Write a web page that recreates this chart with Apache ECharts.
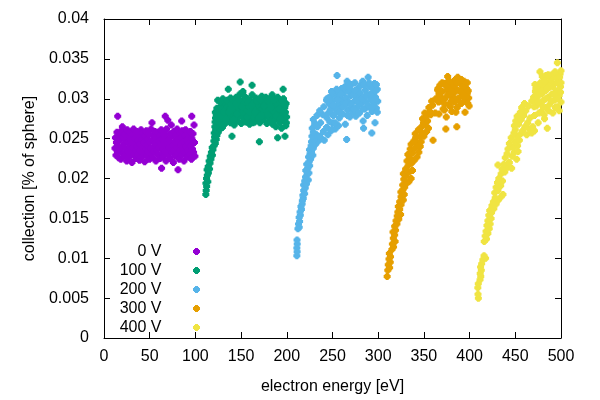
<!DOCTYPE html>
<html>
<head>
<meta charset="utf-8">
<script src="https://cdn.jsdelivr.net/npm/echarts@6/dist/echarts.min.js"></script>
<style>html,body{margin:0;padding:0;background:#fff}#c{width:600px;height:400px}</style>
</head>
<body>
<div id="c"></div>
<script>
var seriesNames = ['0 V', '100 V', '200 V', '300 V', '400 V'];
var seriesColors = ['#9400d3', '#009e73', '#56b4e9', '#e69f00', '#f0e442'];
var xTicks = [0, 50, 100, 150, 200, 250, 300, 350, 400, 450, 500];
var yTicks = [0, 0.005, 0.01, 0.015, 0.02, 0.025, 0.03, 0.035, 0.04];

var v0 = [
[12.0,0.0238],[12.5,0.0251],[13.1,0.0229],[13.6,0.0245],[14.2,0.0258],[14.8,0.0233],[15.0,0.0278],[15.5,0.0241],
[16.1,0.0226],[16.6,0.0255],[17.3,0.0236],[17.9,0.0248],[18.4,0.0224],[19.0,0.0260],[19.6,0.0239],[20.1,0.0265],
[20.7,0.0231],[21.3,0.0252],[21.9,0.0243],[22.4,0.0228],[23.0,0.0256],[23.7,0.0237],[24.2,0.0249],[24.8,0.0222],
[25.4,0.0261],[26.0,0.0234],[26.5,0.0246],[27.1,0.0253],[27.8,0.0227],[28.3,0.0240],[28.9,0.0258],[29.5,0.0232],
[30.0,0.0247],[30.6,0.0220],[31.2,0.0255],[31.8,0.0238],[32.4,0.0262],[33.0,0.0229],[33.5,0.0244],[34.1,0.0251],
[34.7,0.0235],[35.3,0.0225],[35.9,0.0259],[36.4,0.0241],[37.0,0.0248],[37.6,0.0230],[38.2,0.0254],[38.8,0.0223],
[39.3,0.0243],[39.9,0.0236],[40.5,0.0261],[41.1,0.0227],[41.6,0.0249],[42.2,0.0239],[42.8,0.0257],[43.4,0.0232],
[44.0,0.0245],[44.5,0.0221],[45.1,0.0253],[45.7,0.0237],[46.3,0.0260],[46.9,0.0228],[47.4,0.0242],[48.0,0.0250],
[48.6,0.0234],[49.2,0.0256],[49.8,0.0224],[50.3,0.0246],[50.9,0.0238],[51.5,0.0262],[52.1,0.0231],[52.5,0.0270],
[52.7,0.0248],[53.3,0.0226],[53.8,0.0254],[54.4,0.0240],[55.0,0.0233],[55.6,0.0259],[56.2,0.0244],[56.8,0.0222],
[57.3,0.0251],[57.9,0.0236],[58.5,0.0258],[59.1,0.0229],[59.7,0.0247],[60.2,0.0239],[60.8,0.0255],[61.4,0.0225],
[62.0,0.0243],[62.6,0.0261],[63.0,0.0213],[63.1,0.0232],[63.7,0.0250],[64.3,0.0237],[64.9,0.0227],[65.5,0.0257],
[66.0,0.0245],[66.6,0.0234],[67.0,0.0278],[67.2,0.0252],[67.8,0.0222],[68.4,0.0262],[69.0,0.0240],[69.8,0.0273],
[70.1,0.0230],[70.7,0.0248],[71.3,0.0238],[71.9,0.0256],[72.4,0.0225],[73.0,0.0244],[73.6,0.0267],[74.2,0.0233],
[74.8,0.0253],[75.3,0.0241],[75.9,0.0220],[76.5,0.0259],[77.1,0.0236],[77.7,0.0247],[78.2,0.0228],[78.8,0.0255],
[79.4,0.0239],[80.0,0.0262],[80.6,0.0231],[81.0,0.0211],[81.1,0.0249],[81.7,0.0243],[82.3,0.0224],[82.9,0.0257],
[83.5,0.0235],[84.0,0.0251],[84.6,0.0242],[85.0,0.0272],[85.2,0.0229],[85.8,0.0260],[86.4,0.0238],[87.0,0.0246],
[87.5,0.0222],[88.1,0.0254],[88.7,0.0233],[89.3,0.0261],[89.9,0.0240],[90.4,0.0248],[91.0,0.0227],[91.6,0.0256],
[92.2,0.0236],[92.8,0.0244],[93.3,0.0252],[93.9,0.0230],[94.5,0.0259],[95.1,0.0241],[95.7,0.0224],[96.0,0.0278],
[96.2,0.0250],[96.8,0.0237],[97.4,0.0256],[98.0,0.0233],[98.5,0.0267],[99.0,0.0245],[99.5,0.0228]
];

var v100 = [
[111.4,0.0180],[111.8,0.0185],[112.3,0.0190],[111.5,0.0194],[113.6,0.0196],[112.2,0.0200],[113.0,0.0204],[114.2,0.0207],
[112.8,0.0211],[115.5,0.0212],[114.0,0.0215],[116.0,0.0219],[115.0,0.0222],[117.0,0.0224],[116.2,0.0228],[118.6,0.0229],
[117.5,0.0233],[119.2,0.0236],[118.4,0.0239],[120.5,0.0241],[121.8,0.0244],[120.2,0.0247],[122.8,0.0249],[121.0,0.0252],
[123.5,0.0254],[120.6,0.0257],[125.0,0.0258],[122.2,0.0261],[127.0,0.0262],[121.3,0.0265],[129.5,0.0264],[124.0,0.0267],
[121.5,0.0271],[126.0,0.0270],[131.0,0.0268],[122.0,0.0276],[128.0,0.0274],[124.4,0.0298],[121.8,0.0283],[123.5,0.0288],
[122.8,0.0280],[125.3,0.0286],[126.0,0.0279],
[126.8,0.0281],[127.5,0.0290],[128.2,0.0270],[129.0,0.0284],[129.7,0.0293],[130.4,0.0277],[131.1,0.0288],
[131.8,0.0268],[132.5,0.0295],[133.2,0.0280],[134.0,0.0273],[134.7,0.0290],[135.4,0.0284],[136.0,0.0312],[136.2,0.0297],
[136.9,0.0276],[137.6,0.0287],[138.3,0.0270],[139.0,0.0293],[139.7,0.0281],[140.0,0.0253],[140.4,0.0299],[141.1,0.0275],
[141.8,0.0286],[142.5,0.0267],[143.2,0.0291],[143.9,0.0279],[144.6,0.0302],[145.3,0.0284],[146.0,0.0272],[146.7,0.0295],
[147.4,0.0288],[148.1,0.0278],[148.8,0.0306],[149.0,0.0321],[149.5,0.0291],[150.2,0.0269],[150.9,0.0283],[151.6,0.0297],
[152.3,0.0276],[153.0,0.0289],[153.7,0.0303],[154.4,0.0281],[155.1,0.0271],[155.8,0.0294],[156.5,0.0286],[157.2,0.0300],
[157.9,0.0277],[158.6,0.0290],[159.3,0.0268],[160.0,0.0298],[160.7,0.0284],[161.4,0.0274],[162.0,0.0317],[162.1,0.0305],
[162.8,0.0289],[163.5,0.0279],[164.2,0.0296],[164.9,0.0271],[165.6,0.0287],[166.3,0.0301],[167.0,0.0282],[167.7,0.0293],
[168.4,0.0275],[169.1,0.0298],[169.8,0.0285],[170.0,0.0246],[170.5,0.0270],[171.2,0.0291],[171.9,0.0280],[172.6,0.0303],
[173.3,0.0287],[174.0,0.0274],[174.7,0.0295],[175.4,0.0283],[176.1,0.0300],[176.8,0.0278],[177.5,0.0290],[178.2,0.0269],
[178.9,0.0297],[179.6,0.0285],[180.3,0.0276],[181.0,0.0293],[181.7,0.0282],[182.4,0.0299],[183.1,0.0271],[183.8,0.0288],
[184.0,0.0305],[184.5,0.0279],[185.2,0.0296],[185.9,0.0284],[186.6,0.0273],[187.3,0.0291],[188.0,0.0265],[188.7,0.0287],
[189.4,0.0298],[190.0,0.0251],[190.1,0.0277],[190.8,0.0293],[191.5,0.0282],[192.2,0.0270],[192.9,0.0296],[193.6,0.0286],
[194.3,0.0263],[195.0,0.0291],[195.7,0.0279],[196.0,0.0312],[196.4,0.0300],[197.1,0.0273],[197.8,0.0289],[198.0,0.0253],
[198.5,0.0283],[199.2,0.0294],[199.8,0.0277],[198.9,0.0266],
[127.0,0.0296],[128.5,0.0279],[130.0,0.0300],[131.5,0.0283],[133.0,0.0274],[134.5,0.0298],[137.0,0.0283],[138.5,0.0301],
[140.5,0.0289],[142.0,0.0275],[144.0,0.0294],[146.0,0.0281],[147.5,0.0299],[150.5,0.0290],[152.0,0.0309],[154.0,0.0296],
[156.0,0.0277],[158.0,0.0296],[159.5,0.0283],[161.5,0.0292],[163.0,0.0270],[165.0,0.0283],[167.5,0.0297],[169.5,0.0276],
[171.0,0.0300],[173.0,0.0279],[175.0,0.0291],[177.0,0.0302],[179.0,0.0280],[181.0,0.0300],[182.5,0.0289],[184.5,0.0268],
[186.0,0.0299],[188.0,0.0278],[190.0,0.0302],[191.5,0.0287],[193.0,0.0275],[195.0,0.0298],[196.5,0.0285],[198.0,0.0292],
[199.5,0.0270]
];

var v200 = [
[211.0,0.0103],[211.3,0.0108],[211.0,0.0113],[211.4,0.0118],[211.2,0.0123],
[212.2,0.0137],[213.6,0.0139],[212.8,0.0143],[214.0,0.0146],[213.5,0.0151],[214.8,0.0154],[214.5,0.0158],[216.0,0.0161],
[215.5,0.0165],[216.8,0.0168],[217.0,0.0172],[218.0,0.0175],[217.6,0.0179],[219.5,0.0181],[218.5,0.0185],[220.2,0.0188],
[218.4,0.0192],[221.5,0.0193],[219.6,0.0197],[223.5,0.0198],[220.5,0.0202],[222.3,0.0205],[224.2,0.0207],[220.8,0.0210],
[223.0,0.0213],[225.0,0.0216],[221.8,0.0218],[224.4,0.0221],[226.0,0.0224],[223.8,0.0227],[228.5,0.0229],[225.4,0.0231],
[227.0,0.0234],[224.8,0.0236],[229.0,0.0238],[226.6,0.0241],[231.5,0.0243],[227.0,0.0246],[234.5,0.0247],[229.5,0.0249],
[238.0,0.0250],[241.0,0.0248],[227.5,0.0253],[232.5,0.0255],[236.0,0.0253],[245.0,0.0255],[229.0,0.0258],[240.0,0.0259],
[248.5,0.0260],[253.0,0.0262],[227.8,0.0263],[233.5,0.0265],[243.5,0.0264],[256.5,0.0266],[230.5,0.0269],[237.0,0.0270],
[250.0,0.0270],[229.0,0.0274],[244.0,0.0276],[233.0,0.0279],[239.5,0.0280],[236.0,0.0285],[243.5,0.0298],[240.5,0.0290],
[247.0,0.0293],[253.0,0.0307],[265.5,0.0249],
[244.0,0.0300],[245.5,0.0282],[246.5,0.0294],[247.0,0.0271],[248.0,0.0303],[248.5,0.0287],[249.5,0.0262],[250.0,0.0297],
[251.0,0.0279],[251.5,0.0306],[252.5,0.0290],[253.0,0.0270],[254.0,0.0300],[255.0,0.0329],[255.2,0.0284],[256.0,0.0310],
[256.5,0.0293],[257.5,0.0276],[258.0,0.0303],[259.0,0.0288],[260.0,0.0313],[260.5,0.0298],[261.5,0.0281],[262.0,0.0307],
[263.0,0.0292],[264.0,0.0268],[264.5,0.0316],[265.0,0.0301],[266.0,0.0322],[266.5,0.0286],[267.5,0.0310],[268.0,0.0296],
[269.0,0.0277],[270.0,0.0304],[270.5,0.0318],[271.5,0.0290],[272.0,0.0283],[273.0,0.0309],[274.0,0.0297],[274.5,0.0320],
[275.5,0.0278],[276.0,0.0303],[277.0,0.0289],[278.0,0.0313],[279.0,0.0299],[279.5,0.0282],[280.5,0.0307],[281.0,0.0293],
[282.0,0.0318],[283.0,0.0322],[283.5,0.0272],[284.0,0.0263],[284.5,0.0301],[285.5,0.0287],[286.0,0.0311],[287.0,0.0296],
[288.0,0.0279],[289.0,0.0327],[289.3,0.0305],[290.0,0.0290],[291.0,0.0315],[292.0,0.0299],[293.0,0.0257],[293.3,0.0284],
[294.0,0.0308],[295.0,0.0294],[296.0,0.0319],[296.5,0.0270],[297.0,0.0302],[298.0,0.0288],[299.0,0.0312],[299.5,0.0297],
[245.5,0.0301],[247.5,0.0286],[249.0,0.0309],[251.0,0.0292],[252.5,0.0281],[254.5,0.0312],[256.0,0.0298],[258.0,0.0283],
[259.5,0.0306],[261.0,0.0290],[263.0,0.0314],[265.0,0.0294],[266.5,0.0279],[268.5,0.0314],[270.0,0.0292],[272.0,0.0305],
[273.5,0.0287],[275.0,0.0311],[277.0,0.0297],[278.5,0.0282],[280.0,0.0316],[282.0,0.0300],[283.5,0.0287],[285.0,0.0318],
[287.0,0.0304],[288.5,0.0292],[290.0,0.0320],[292.0,0.0306],[293.5,0.0290],[295.0,0.0313],[296.5,0.0300],[298.0,0.0318],
[299.0,0.0283],[297.5,0.0310]
];

var v300 = [
[309.8,0.0077],[310.5,0.0085],[312.5,0.0088],[311.0,0.0092],[313.2,0.0095],[311.8,0.0099],[313.5,0.0102],[312.2,0.0106],
[315.0,0.0111],[316.8,0.0114],[315.5,0.0118],[318.5,0.0121],[316.5,0.0125],[318.0,0.0129],[316.2,0.0133],[319.0,0.0135],
[318.0,0.0140],[320.5,0.0143],[319.5,0.0147],[322.5,0.0149],[320.8,0.0153],[324.5,0.0155],[321.5,0.0158],[323.5,0.0161],
[322.0,0.0165],[325.0,0.0167],[323.5,0.0171],[327.5,0.0173],[325.0,0.0177],[328.5,0.0180],[324.8,0.0183],[327.0,0.0186],
[329.0,0.0189],[326.8,0.0192],[331.0,0.0194],[333.5,0.0196],[328.0,0.0199],[336.0,0.0200],[330.5,0.0203],[327.5,0.0206],
[334.0,0.0208],[337.5,0.0210],[330.0,0.0212],[332.8,0.0216],[336.5,0.0219],[331.5,0.0222],[339.5,0.0223],[334.5,0.0226],
[342.5,0.0227],[332.5,0.0230],[337.5,0.0232],[344.5,0.0233],[335.0,0.0237],[340.5,0.0238],[346.0,0.0240],[336.0,0.0243],
[343.0,0.0244],[339.0,0.0247],[347.0,0.0246],[341.0,0.0251],[345.5,0.0252],[350.0,0.0253],[360.0,0.0248],[340.5,0.0256],
[348.0,0.0257],[353.0,0.0259],[344.0,0.0261],[355.0,0.0263],[374.0,0.0262],[347.5,0.0265],[351.5,0.0267],[349.5,0.0270],
[354.0,0.0272],[348.5,0.0275],[352.5,0.0278],[357.5,0.0280],[366.5,0.0281],[351.0,0.0282],[356.5,0.0284],[362.5,0.0282],
[355.5,0.0289],[359.5,0.0292],[365.5,0.0313],[358.5,0.0297],[363.0,0.0300],[367.0,0.0305],[376.0,0.0328],
[365.0,0.0311],[366.5,0.0306],[367.5,0.0317],[368.5,0.0297],[370.0,0.0309],[371.0,0.0287],[372.0,0.0319],
[373.0,0.0300],[374.5,0.0277],[375.5,0.0311],[376.5,0.0322],[377.5,0.0293],[378.5,0.0315],
[379.5,0.0303],[380.5,0.0284],[381.5,0.0318],[382.5,0.0307],[383.5,0.0296],[384.5,0.0324],[385.5,0.0312],[386.0,0.0265],
[386.5,0.0289],[387.0,0.0327],[388.0,0.0301],[389.0,0.0320],[390.0,0.0309],[391.0,0.0294],[392.0,0.0316],[393.0,0.0303],
[394.0,0.0322],[395.0,0.0283],[395.5,0.0298],[396.5,0.0313],[397.5,0.0307],[398.0,0.0294],[399.0,0.0301],
[366.0,0.0296],[368.0,0.0309],[370.5,0.0300],[372.5,0.0286],[374.0,0.0316],[376.0,0.0305],[378.0,0.0322],[379.0,0.0290],
[381.0,0.0309],[383.0,0.0317],[384.0,0.0300],[386.0,0.0320],[388.0,0.0310],[389.5,0.0296],[391.0,0.0324],[392.5,0.0309],
[394.5,0.0315],[396.0,0.0303],[397.5,0.0320],[398.5,0.0310],[399.5,0.0291],[370.0,0.0320],[373.0,0.0293],[380.0,0.0297],
[385.0,0.0283]
];

var v400 = [
[409.6,0.0050],[409.2,0.0055],[409.0,0.0063],[409.5,0.0068],[411.4,0.0073],[412.2,0.0077],[411.6,0.0081],[412.8,0.0085],
[412.0,0.0089],[413.2,0.0093],[414.5,0.0098],[417.5,0.0100],[415.8,0.0103],
[416.0,0.0121],[418.5,0.0124],[417.0,0.0128],[420.0,0.0131],[418.0,0.0134],[421.5,0.0137],[419.0,0.0141],[422.5,0.0143],
[420.0,0.0147],[423.5,0.0150],[421.0,0.0154],[424.0,0.0157],[422.0,0.0160],[426.5,0.0162],[424.5,0.0166],[429.0,0.0168],
[426.0,0.0171],[431.5,0.0173],[428.0,0.0176],[434.5,0.0177],[436.5,0.0180],[427.5,0.0182],[431.0,0.0185],[429.0,0.0189],
[434.0,0.0191],[430.5,0.0195],[436.0,0.0197],[432.0,0.0200],[431.0,0.0217],[434.5,0.0206],[438.5,0.0208],[435.5,0.0212],
[441.5,0.0214],[446.0,0.0213],[437.5,0.0218],[443.5,0.0220],[451.5,0.0224],[439.0,0.0226],[446.5,0.0228],[441.0,0.0231],
[449.0,0.0233],[453.0,0.0234],[442.0,0.0237],[447.5,0.0239],[452.5,0.0241],[443.5,0.0244],[449.5,0.0246],[454.5,0.0248],
[445.5,0.0251],[451.5,0.0253],[448.5,0.0257],[456.0,0.0256],[462.5,0.0255],[468.0,0.0257],[450.0,0.0261],[458.0,0.0260],
[465.0,0.0262],[471.0,0.0260],[449.0,0.0266],[453.5,0.0268],[460.5,0.0265],[469.0,0.0265],[450.5,0.0272],[456.5,0.0274],
[463.5,0.0270],[452.0,0.0278],[459.0,0.0279],[466.0,0.0276],[455.5,0.0283],[461.5,0.0285],[457.0,0.0289],[464.5,0.0291],
[460.0,0.0294],[468.0,0.0297],[470.0,0.0302],[473.0,0.0306],[471.5,0.0318],[477.0,0.0334],[479.5,0.0328],
[470.0,0.0298],[471.0,0.0279],[472.0,0.0309],[473.0,0.0291],[474.0,0.0302],[475.0,0.0270],[476.0,0.0313],[477.0,0.0295],
[478.5,0.0284],[479.0,0.0306],[480.0,0.0317],[481.0,0.0298],[482.0,0.0275],[483.0,0.0310],[483.5,0.0329],[484.0,0.0289],
[485.0,0.0263],[485.5,0.0320],[486.0,0.0302],[487.0,0.0314],[488.0,0.0293],[489.0,0.0324],[490.0,0.0306],[491.0,0.0282],
[492.0,0.0318],[493.0,0.0298],[494.0,0.0327],[495.0,0.0310],[496.0,0.0345],[496.3,0.0290],[497.0,0.0322],[498.0,0.0304],
[499.0,0.0331],[499.5,0.0315],[500.0,0.0296],
[470.5,0.0290],[472.5,0.0313],[474.5,0.0296],[476.0,0.0282],[477.5,0.0320],[479.5,0.0310],[480.5,0.0290],[482.0,0.0322],
[483.5,0.0300],[485.0,0.0313],[486.5,0.0285],[488.0,0.0326],[489.5,0.0297],[491.0,0.0315],[492.5,0.0305],[494.0,0.0289],
[495.5,0.0320],[497.0,0.0300],[498.5,0.0327],[499.5,0.0308],[500.0,0.0320],[498.0,0.0285],[490.0,0.0330],[486.0,0.0330],
[475.0,0.0305],[481.5,0.0280],[493.5,0.0334],[500.0,0.0335]
];

var seriesData = [v0, v100, v200, v300, v400];
var legendRowTops = [243.5, 262.5, 281.5, 300.5, 319.5];

var starPath = 'path://M2,0H5V1H6V2H7V5H6V6H5V7H2V6H1V5H0V2H1V1H2Z';
var FONT = 'Liberation Sans';

var chart = echarts.init(document.getElementById('c'), null, {renderer: 'canvas'});

var axisCommon = {
  axisLine: {show: true, onZero: false, lineStyle: {color: '#000', width: 1}},
  axisTick: {show: true, inside: true, length: 6, lineStyle: {color: '#000', width: 1}},
  splitLine: {show: false}
};

var legends = seriesNames.map(function (n, i) {
  return {
    data: [n],
    orient: 'vertical',
    align: 'right',
    right: 400,
    top: legendRowTops[i],
    padding: 0,
    itemWidth: 60,
    itemHeight: 7,
    icon: starPath,
    selectedMode: false,
    textStyle: {fontFamily: FONT, fontSize: 16, color: '#000'}
  };
});

var option = {
  animation: false,
  backgroundColor: '#fff',
  grid: {left: 104, right: 39, top: 19, bottom: 62, containLabel: false},
  legend: legends,
  xAxis: [
    Object.assign({
      type: 'value', min: 0, max: 500, interval: 50, position: 'bottom',
      name: 'electron energy [eV]', nameLocation: 'middle', nameGap: 41,
      nameTextStyle: {fontFamily: FONT, fontSize: 16, color: '#000'},
      axisLabel: {margin: 11, fontFamily: FONT, fontSize: 16, color: '#000',
        customValues: xTicks}
    }, axisCommon),
    Object.assign({
      type: 'value', min: 0, max: 500, interval: 50, position: 'top',
      axisLabel: {show: false}
    }, axisCommon)
  ],
  yAxis: [
    Object.assign({
      type: 'value', min: 0, max: 0.04, interval: 0.005, position: 'left',
      name: 'collection [% of sphere]', nameLocation: 'middle', nameGap: 57, nameRotate: 90,
      nameTextStyle: {fontFamily: FONT, fontSize: 16, color: '#000'},
      axisLabel: {margin: 15, fontFamily: FONT, fontSize: 16, color: '#000',
        formatter: function (v) { return String(parseFloat(v.toFixed(4))); }}
    }, axisCommon),
    Object.assign({
      type: 'value', min: 0, max: 0.04, interval: 0.005, position: 'right',
      axisLabel: {show: false}
    }, axisCommon)
  ],
  series: seriesNames.map(function (n, i) {
    return {
      name: n,
      type: 'scatter',
      xAxisIndex: 0,
      yAxisIndex: 0,
      data: seriesData[i],
      symbol: starPath,
      symbolSize: 7,
      itemStyle: {color: seriesColors[i], opacity: 1},
      emphasis: {disabled: true},
      z: 2 + i
    };
  })
};

chart.setOption(option);
</script>
</body>
</html>
